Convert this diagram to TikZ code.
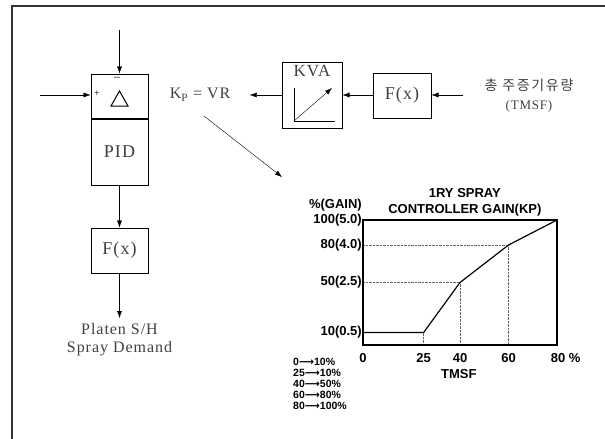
\documentclass[tikz,border=0pt]{standalone}
\usepackage{fontspec}
\setmainfont{Liberation Serif}[LetterSpace=6]
\newfontfamily\grfont{Liberation Sans}
\newfontfamily\arfont{DejaVu Sans}
\newfontfamily\krfont[LetterSpace=12]{Noto Sans CJK KR}
\newcommand{\tabarrow}{{\arfont\bfseries ⟶}}
\usetikzlibrary{arrows.meta, positioning}

\begin{document}
\begin{tikzpicture}[x=1pt, y=-1pt, >={Latex[length=7pt,width=5pt]},
  block/.style={draw, line width=1pt, minimum width=57pt, inner sep=0pt, text=black!75, font=\fontsize{18}{18}\selectfont},
  lbl/.style={text=black!75, align=center, font=\fontsize{16}{18}\selectfont},
  axlbl/.style={inner sep=1pt, font=\grfont\bfseries\fontsize{13}{13}\selectfont},
  guide/.style={densely dotted, thin, black!60}]

\useasboundingbox (0,0) rectangle (605,439);
\draw[line width=1.5pt, black!80] (12,439) -- (12,6) -- (605,6);

% PID loop
\node[block, minimum height=44pt] (delta) at (119.5,96) {};
\node[block, minimum height=66pt, below=0pt of delta] (pid) {PID};
\node[block, minimum height=45pt] (fx1) at (119.5,250.5) {F(x)};
\draw[line width=1pt] ([yshift=5pt]delta.center) -- ([xshift=8.5pt,yshift=-10pt]delta.center)
  -- ([xshift=-8.5pt,yshift=-10pt]delta.center) -- cycle;
\node[font=\fontsize{12}{12}\selectfont] (minus) at (117,79) {--};
\node[font=\fontsize{10}{10}\selectfont] (plus) at (97,94) {+};
\coordinate (sp) at (119.5,30);
\coordinate (pv) at (40,95);
\coordinate (out) at (119.5,318);
\draw[->] (sp) -- (delta.north);
\draw[->] (pv) -- (pv -| delta.west);
\draw[->] (pid.south) -- (fx1.north);
\draw[->] (fx1.south) -- (out);
\node[lbl, below=2pt of out] (dem) {Platen S/H\\Spray Demand};

% gain schedule
\node[block, minimum width=60pt, minimum height=66pt] (kva) at (312,95) {};
\node[block, font=\fontsize{17}{17}\selectfont, below=3pt of kva.north, draw=none] (kvat) {KVA};
\draw[shift={(kva.center)}] (-18,-7) -- (-18,26) -- (23,26);
\draw[->, shift={(kva.center)}] (-18,26) -- (20,-7);
\node[block, minimum width=58pt, minimum height=45pt] (fx2) at (402,95.5) {F(x)};
\node[lbl, font=\fontsize{13}{19}\selectfont] (tmsf) at (529,96) {{\krfont\fontsize{14}{14}\selectfont 총 주증기유량}\\(TMSF)};
\node[lbl] (kp) at (200,95) {K\textsubscript{P} = VR};
\coordinate (tin) at (463,95);
\draw[->] (tin) -- (tin -| fx2.east);
\draw[->] (fx2.west |- kva) -- (kva.east);
\draw[->, shorten >=16pt] (kva.west) -- (kp.east);
\coordinate (kpa) at (204,116);
\coordinate (kpb) at (282,177);
\draw[->] (kpa) -- (kpb);

% graph
\begin{scope}[shift={(363,345)}, x=2.425pt, y=1.25pt]
\draw[guide] (0,80) -- (60,80) -- (60,0);
\draw[guide] (0,50) -- (40,50) -- (40,0);
\draw[guide] (25,10) -- (25,0);
\draw[line width=1.4pt] (0,0) rectangle (80,100);
\draw[line width=1.2pt] (0,10) -- (25,10) -- (40,50) -- (60,80) -- (80,100);
\node[axlbl, anchor=east] (y100) at (0,100) {100(5.0)};
\node[axlbl, anchor=east] (y80) at (0,80) {80(4.0)};
\node[axlbl, anchor=east] (y50) at (0,50) {50(2.5)};
\node[axlbl, anchor=east] (y10) at (0,10) {10(0.5)};
\node[axlbl, anchor=east] (ylab) at (0,112) {\%(GAIN)};
\node[axlbl, anchor=north] (x0) at (0,-6) {0};
\node[axlbl, anchor=north] (x25) at (25,-6) {25};
\node[axlbl, anchor=north] (x40) at (40,-6) {40};
\node[axlbl, anchor=north] (x60) at (60,-6) {60};
\node[axlbl, anchor=north west] (x80) at (77,-6) {80 \%};
\node[axlbl] (xlab) at (39.5,-23.5) {TMSF};
\node[axlbl, align=center, font=\grfont\bfseries\fontsize{13}{16}\selectfont] (title) at (42,114) {1RY SPRAY\\CONTROLLER GAIN(KP)};
\end{scope}
\node[axlbl, anchor=north west, inner sep=0pt, align=left, font=\grfont\bfseries\fontsize{10.5}{11}\selectfont] (tab) at (293,358)
  {0\tabarrow10\%\\25\tabarrow10\%\\40\tabarrow50\%\\60\tabarrow80\%\\80\tabarrow100\%};
\end{tikzpicture}
\end{document}
